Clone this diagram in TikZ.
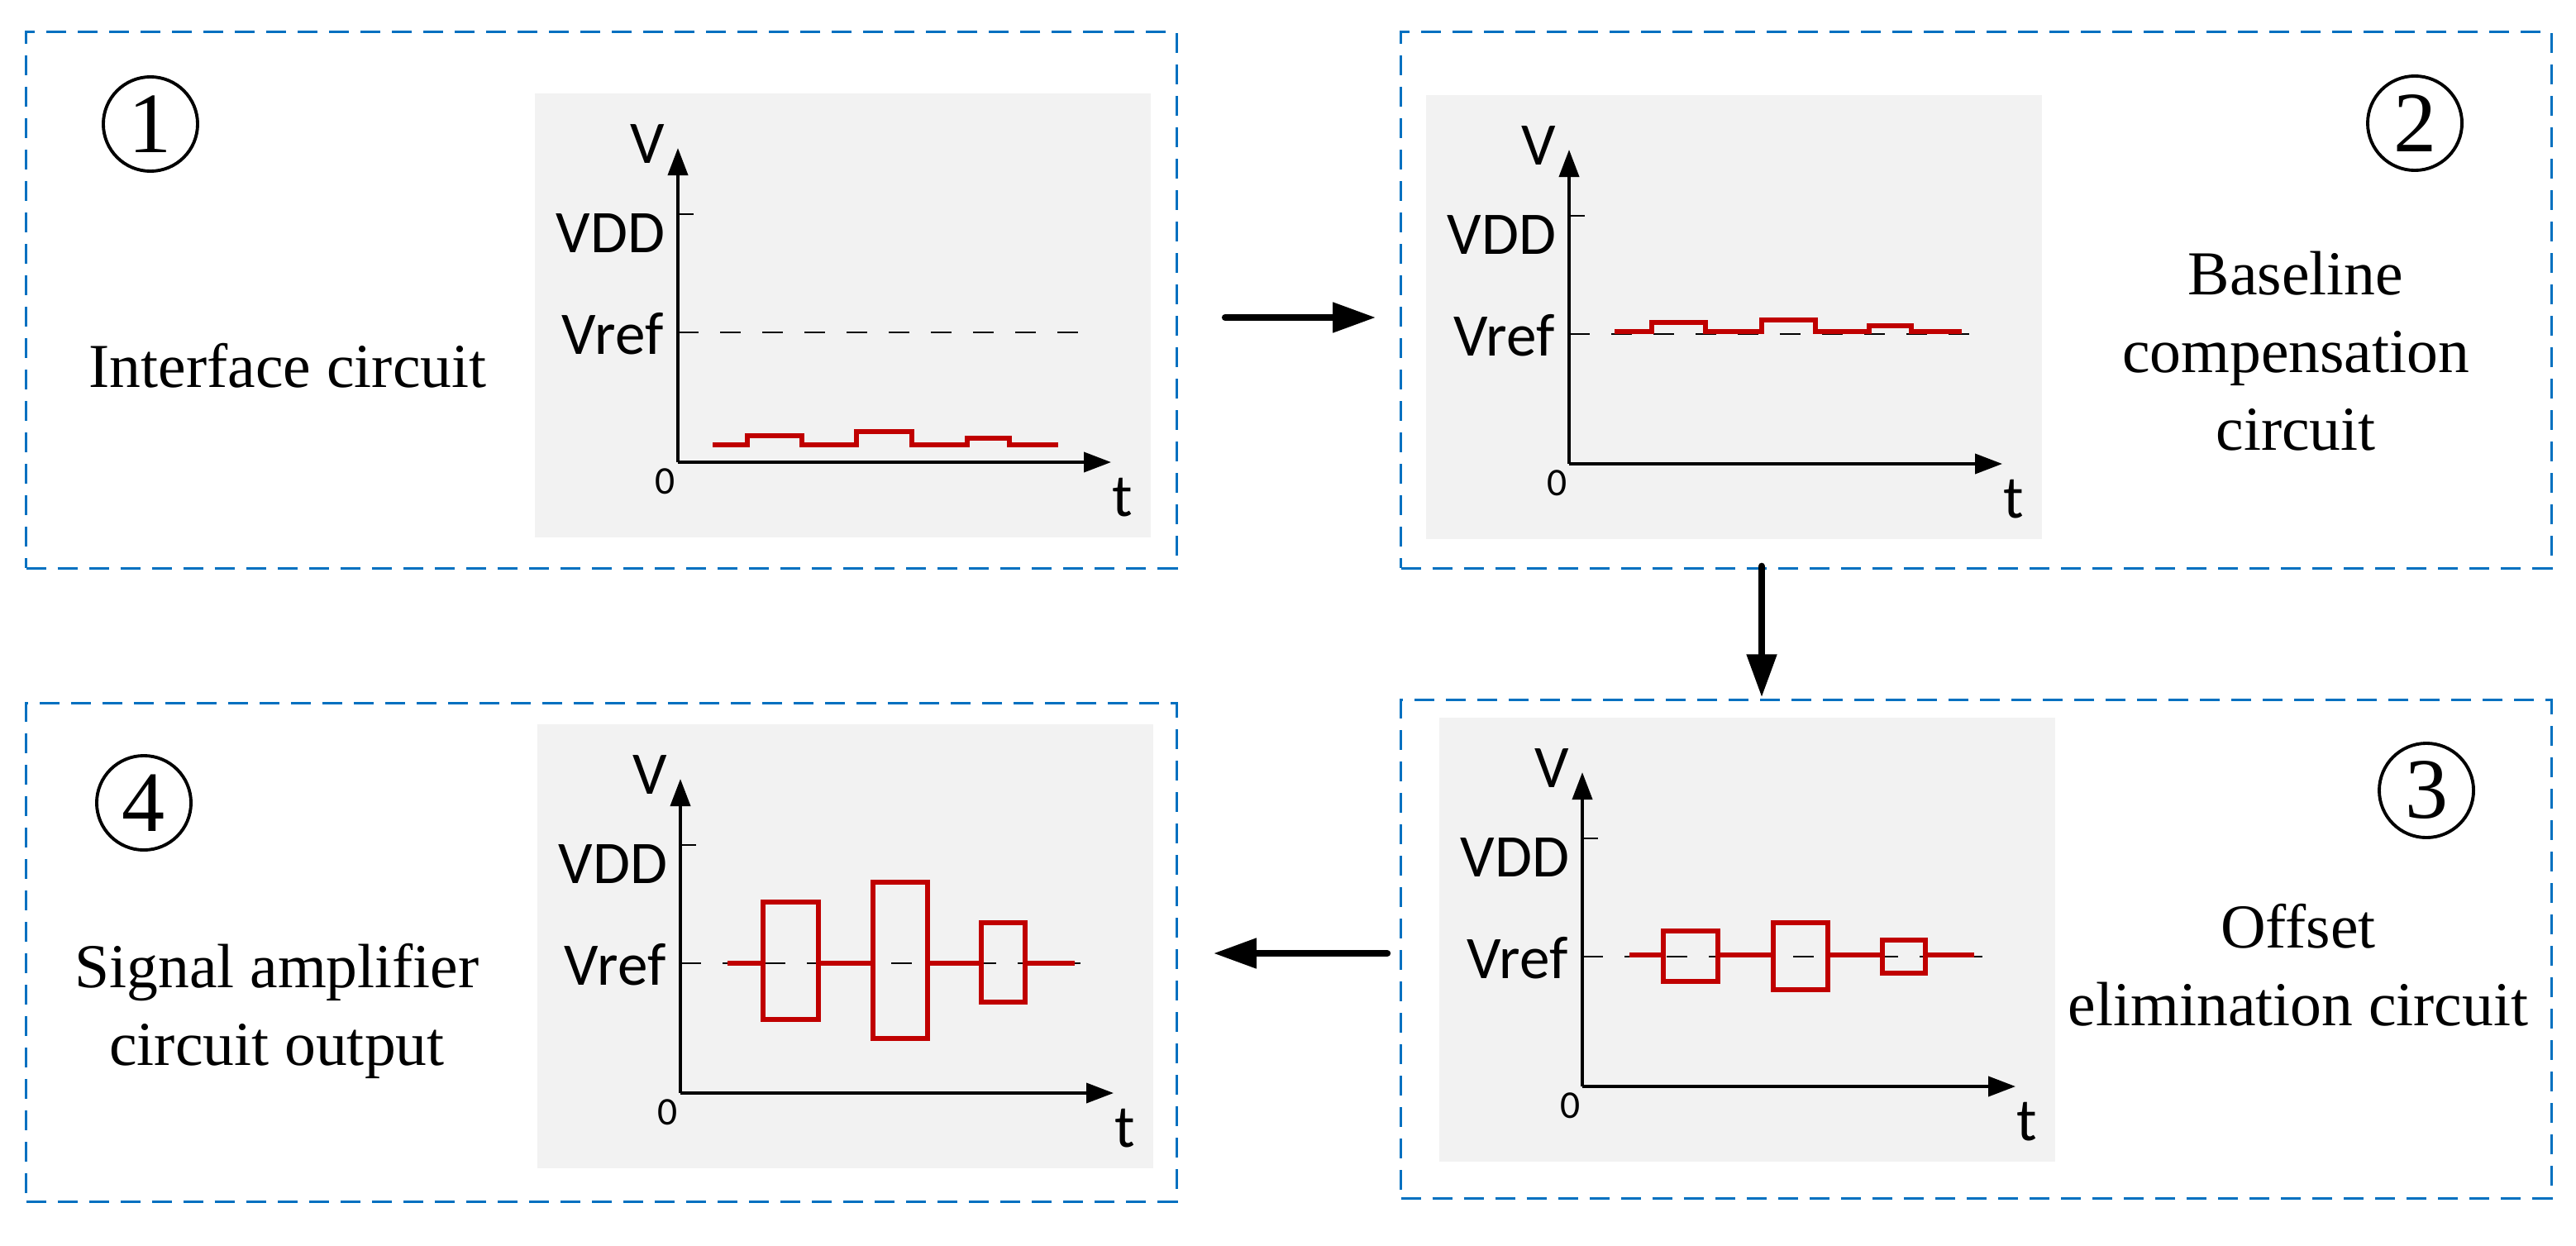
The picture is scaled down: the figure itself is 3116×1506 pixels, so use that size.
\documentclass[tikz,border=0pt]{standalone}
\usepackage{fontspec}
\setmainfont{Liberation Serif}
\newfontfamily\plotfont{Carlito}
\usetikzlibrary{arrows.meta, positioning}

\definecolor{panelblue}{HTML}{0070C0}
\definecolor{plotgray}{HTML}{F2F2F2}
\definecolor{sigred}{HTML}{C00000}

\tikzset{
  panel/.style={rectangle, draw=panelblue, line width=0.85pt, dash pattern=on 0.24cm off 0.14cm, inner sep=0pt},
  axis/.style={line width=1.1pt, -{Triangle[length=0.33cm, width=0.24cm]}},
  refline/.style={line width=0.45pt, dash pattern=on 0.25cm off 0.26cm},
  signal/.style={sigred, line width=1.6pt, line join=miter},
  flow/.style={line width=2.3pt, line cap=round, -{Triangle[length=0.52cm, width=0.35cm]}},
  stepno/.style={circle, draw, line width=1.1pt, minimum size=1.14cm, inner sep=0pt, font=\fontsize{29.6}{30}\selectfont},
  caption/.style={align=center, inner sep=0pt, font=\fontsize{21.5}{26.6}\selectfont},
  plotlabel/.style={inner sep=0pt, font=\plotfont\fontsize{20.8}{22}\selectfont},
  zerolabel/.style={inner sep=0pt, font=\plotfont\fontsize{13.5}{14}\selectfont}
}

\begin{document}
\begin{tikzpicture}[x=0.01cm, y=-0.01cm]
\useasboundingbox (0,0) rectangle (3116,1506);

% the four stages
\node[panel, minimum width=13.91cm, minimum height=6.48cm] (p1) at (727.5,363) {};
\node[panel, minimum width=13.91cm, minimum height=6.48cm] (p2) at (2390.5,363) {};
\node[panel, minimum width=13.91cm, minimum height=6.02cm] (p3) at (2390.5,1148) {};
\node[panel, minimum width=13.91cm, minimum height=6.02cm] (p4) at (727.5,1152) {};

\node[stepno] (n1) at (182,150) {1};
\node[stepno] (n2) at (2921,149) {2};
\node[stepno] (n3) at (2935,956) {3};
\node[stepno] (n4) at (174,971) {4};

% base anchor sits on the last line
\node[caption, anchor=base] (c1) at (348,468) {Interface circuit};
\node[caption, anchor=base] (c2) at (2777,544) {Baseline\\compensation\\circuit};
\node[caption, anchor=base] (c3) at (2780,1240) {Offset\\elimination circuit};
\node[caption, anchor=base] (c4) at (335,1288) {Signal amplifier\\circuit output};

% plot origins
\coordinate (o1) at (820,559);
\coordinate (o2) at (1898,561);
\coordinate (o3) at (1914,1314);
\coordinate (o4) at (823,1322);

\foreach \n in {1,...,4} {
  \fill[plotgray] (o\n) ++(-173,-446) rectangle ++(745,537);
  \draw[refline] (o\n) ++(0,-157) -- ++(494,0);
  \draw[line width=0.45pt] (o\n) ++(0,-300) -- ++(19,0);
  \draw[axis] (o\n) -- ++(0,-380);
  \draw[axis] (o\n) -- ++(524,0);
  \path (o\n) ++(-37,-385) node[plotlabel] (v\n) {V};
  \path (o\n) ++(-15,-277) node[plotlabel, anchor=east] (vdd\n) {VDD};
  \path (o\n) ++(-17,-155) node[plotlabel, anchor=east] (vref\n) {Vref};
  \path (o\n) ++(-15,23) node[zerolabel] (z\n) {0};
  \path (o\n) ++(538,43) node[plotlabel] (t\n) {t};
}

\begin{scope}[shift={(o1)}]
  \draw[signal] (42,-21) -- (84,-21) -- (84,-32) -- (150,-32) -- (150,-21) -- (216,-21) -- (216,-37)
    -- (283,-37) -- (283,-21) -- (350,-21) -- (350,-29) -- (401,-29) -- (401,-21) -- (460,-21);
\end{scope}
\begin{scope}[shift={(o2)}]
  \draw[signal] (55,-160) -- (100,-160) -- (100,-171) -- (165,-171) -- (165,-160) -- (233,-160) -- (233,-174)
    -- (298,-174) -- (298,-160) -- (363,-160) -- (363,-167) -- (414,-167) -- (414,-160) -- (475,-160);
\end{scope}
\begin{scope}[shift={(o3)}]
  \draw[signal] (57,-159) -- (98,-159) (164,-159) -- (231,-159) (297,-159) -- (363,-159) (415,-159) -- (474,-159);
  \draw[signal] (98,-188) rectangle (164,-127) (231,-198) rectangle (297,-117) (363,-177) rectangle (415,-137);
\end{scope}
\begin{scope}[shift={(o4)}]
  \draw[signal] (57,-157) -- (100,-157) (167,-157) -- (233,-157) (299,-157) -- (364,-157) (417,-157) -- (477,-157);
  \draw[signal] (100,-231) rectangle (167,-89) (233,-255) rectangle (299,-66) (364,-206) rectangle (417,-110);
\end{scope}

\draw[flow] ([shift={(57,21)}]p1.east) -- ([shift={(-29,21)}]p2.west);
\draw[flow] ([shift={(-259.5,-4)}]p2.south) -- ([shift={(-259.5,-2)}]p3.north);
\draw[flow] ([shift={(-15,5)}]p3.west) -- ([shift={(43,1)}]p4.east);
\end{tikzpicture}
\end{document}
